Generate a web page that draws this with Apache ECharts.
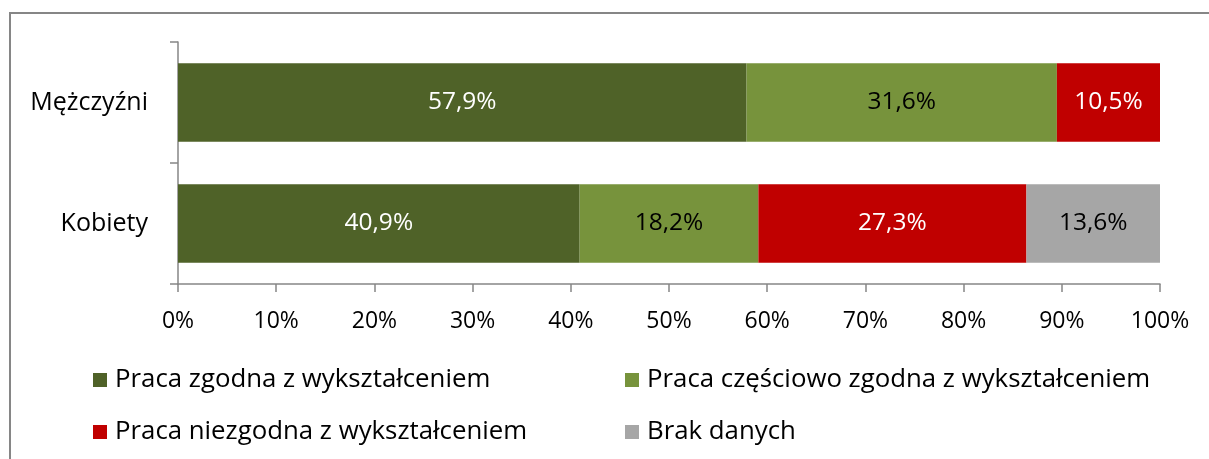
<!DOCTYPE html>
<html>
<head>
<meta charset="utf-8">
<script src="https://cdn.jsdelivr.net/npm/echarts@6/dist/echarts.min.js"></script>
<style>
html,body{margin:0;padding:0;background:#fff;}
#chart{width:1209px;height:459px;}
</style>
</head>
<body>
<div id="chart"></div>
<script>
const categories = ['Mężczyźni', 'Kobiety'];
const seriesNames = ['Praca zgodna z wykształceniem', 'Praca częściowo zgodna z wykształceniem', 'Praca niezgodna z wykształceniem', 'Brak danych'];
const zgodna = [57.9, 40.9];
const czesciowo = [31.6, 18.2];
const niezgodna = [10.5, 27.3];
const brak = [null, 13.6];
const xTicks = [0, 10, 20, 30, 40, 50, 60, 70, 80, 90, 100];

const colors = ['#4F6228', '#77933C', '#C00000', '#A6A6A6'];
const labelColors = ['#ffffff', '#000000', '#ffffff', '#000000'];
const FONT = 'Open Sans';
const values = [zgodna, czesciowo, niezgodna, brak];

const chart = echarts.init(document.getElementById('chart'), null, {renderer: 'canvas'});

const legendPos = [
  {left: 88, top: 362},
  {left: 620, top: 362},
  {left: 88, top: 414},
  {left: 620, top: 414}
];

const option = {
  animation: false,
  textStyle: {fontFamily: FONT},
  grid: {left: 178, right: 49, top: 42, bottom: 175, containLabel: false},
  xAxis: {
    type: 'value',
    min: xTicks[0],
    max: xTicks[xTicks.length - 1],
    interval: 10,
    axisLine: {show: true, lineStyle: {color: '#868686', width: 1.5}},
    axisTick: {show: true, length: 8, lineStyle: {color: '#868686', width: 1.5}},
    splitLine: {show: false},
    axisLabel: {formatter: '{value}%', color: '#000', fontSize: 23, fontFamily: FONT, margin: 26}
  },
  yAxis: {
    type: 'category',
    data: categories,
    inverse: true,
    axisLine: {show: true, lineStyle: {color: '#868686', width: 1.5}},
    axisTick: {show: true, length: 8, lineStyle: {color: '#868686', width: 1.5}},
    axisLabel: {color: '#000', fontSize: 25, fontFamily: FONT, margin: 30}
  },
  legend: legendPos.map((p, i) => ({
    data: [seriesNames[i]],
    left: p.left,
    top: p.top,
    orient: 'horizontal',
    itemWidth: 14,
    itemHeight: 14,
    itemGap: 8,
    icon: 'rect',
    textStyle: {fontSize: 25.8, color: '#000', fontFamily: FONT, padding: [0, 0, 0, 3]}
  })),
  series: seriesNames.map((name, i) => ({
    name: name,
    type: 'bar',
    stack: 'total',
    data: values[i],
    barCategoryGap: '35%',
    itemStyle: {color: colors[i]},
    label: {
      show: true,
      position: 'inside',
      color: labelColors[i],
      fontSize: 24.5,
      fontFamily: FONT,
      formatter: p => (p.value == null ? '' : p.value.toFixed(1).replace('.', ',') + '%')
    }
  })),
  graphic: [
    {
      type: 'rect',
      shape: {x: 10, y: 13, width: 1300, height: 600},
      style: {fill: 'none', stroke: '#868686', lineWidth: 2},
      silent: true
    }
  ]
};
chart.setOption(option);
</script>
</body>
</html>
